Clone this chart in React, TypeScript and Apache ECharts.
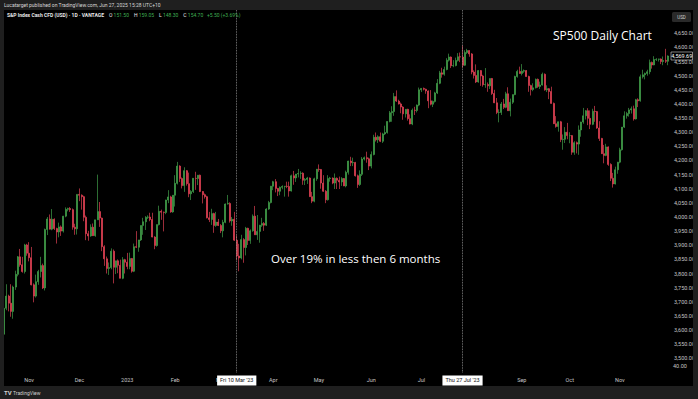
import React, { useEffect, useRef } from "react";
import * as echarts from "echarts";

// [open, high, low, close] per CFD session (weekdays, closed 26 Dec 2022 and 2 Jan 2023)
type Bar = [number, number, number, number];

const oct22: Bar[] = [
  [3585, 3690, 3580, 3677], [3677, 3762, 3670, 3720], [3720, 3725, 3666, 3695], [3695, 3762, 3647, 3666],
  [3666, 3757, 3640, 3752], [3752, 3810, 3742, 3797], [3797, 3862, 3790, 3859], [3859, 3887, 3824, 3831],
  [3831, 3859, 3803, 3807], [3807, 3905, 3800, 3901], [3901, 3905, 3863, 3872],
];
const nov22: Bar[] = [
  [3872, 3911, 3843, 3856], [3856, 3894, 3758, 3760], [3760, 3765, 3698, 3720], [3720, 3796, 3715, 3771],
  [3771, 3813, 3760, 3807], [3807, 3859, 3786, 3828], [3828, 3835, 3745, 3749], [3749, 3959, 3740, 3956],
  [3956, 4000, 3936, 3993], [3993, 4009, 3956, 3957], [3957, 4028, 3953, 3992], [3992, 3995, 3954, 3959],
  [3959, 3962, 3906, 3947], [3947, 3980, 3928, 3965], [3965, 3970, 3933, 3950], [3950, 4004, 3945, 4003],
  [4003, 4034, 3999, 4027], [4027, 4033, 4020, 4030], [4030, 4035, 4018, 4026], [4026, 4030, 3955, 3964],
  [3964, 3976, 3937, 3958], [3958, 4080, 3938, 4080],
];
const dec22: Bar[] = [
  [4080, 4101, 4056, 4077], [4077, 4080, 4026, 4072], [4072, 4075, 3985, 3999], [3999, 4005, 3918, 3941],
  [3941, 3951, 3916, 3933], [3933, 3974, 3930, 3964], [3964, 3977, 3933, 3934], [3934, 3990, 3930, 3990],
  [3990, 4150, 3990, 4019], [4019, 4053, 3965, 3996], [3996, 3998, 3879, 3895], [3895, 3900, 3827, 3852],
  [3852, 3860, 3800, 3818], [3818, 3839, 3795, 3821], [3821, 3889, 3815, 3879], [3879, 3885, 3765, 3822],
  [3822, 3845, 3798, 3845], [3845, 3850, 3801, 3829], [3829, 3849, 3783, 3783], [3783, 3858, 3780, 3849],
  [3849, 3852, 3800, 3840],
];
const jan23: Bar[] = [
  [3840, 3873, 3815, 3825], [3825, 3874, 3815, 3853], [3853, 3855, 3803, 3808], [3808, 3906, 3805, 3895],
  [3895, 3950, 3890, 3893], [3893, 3919, 3877, 3919], [3919, 3970, 3915, 3970], [3970, 3997, 3937, 3983],
  [3983, 4003, 3954, 3999], [3999, 4006, 3993, 4000], [4000, 4015, 3985, 3991], [3991, 4015, 3928, 3929],
  [3929, 3932, 3886, 3899], [3899, 3973, 3895, 3973], [3973, 4040, 3970, 4020], [4020, 4026, 3990, 4017],
  [4017, 4019, 3949, 4016], [4016, 4061, 4010, 4060], [4060, 4095, 4049, 4071], [4071, 4075, 4015, 4018],
  [4018, 4077, 4015, 4077],
];
const feb23: Bar[] = [
  [4077, 4148, 4037, 4119], [4119, 4195, 4115, 4180], [4180, 4183, 4124, 4136], [4136, 4140, 4101, 4111],
  [4111, 4176, 4089, 4164], [4164, 4166, 4111, 4118], [4118, 4157, 4070, 4082], [4082, 4095, 4060, 4090],
  [4090, 4138, 4085, 4137], [4137, 4160, 4096, 4136], [4136, 4148, 4113, 4148], [4148, 4150, 4088, 4090],
  [4090, 4092, 4048, 4079], [4079, 4083, 4065, 4072], [4072, 4075, 3995, 3997], [3997, 4018, 3982, 3991],
  [3991, 4029, 3972, 4012], [4012, 4015, 3944, 3970], [3970, 4018, 3965, 3982], [3982, 3993, 3968, 3970],
];
const mar23: Bar[] = [
  [3970, 3975, 3943, 3951], [3951, 3990, 3928, 3981], [3981, 4048, 3978, 4046], [4046, 4078, 4044, 4048],
  [4048, 4052, 3980, 3986], [3986, 4000, 3969, 3992], [3992, 4018, 3915, 3918], [3918, 3935, 3847, 3862],
  [3862, 3905, 3808, 3855], [3855, 3937, 3850, 3920], [3920, 3925, 3838, 3892], [3892, 3965, 3864, 3960],
  [3960, 3962, 3901, 3917], [3917, 3956, 3905, 3951], [3951, 4009, 3948, 4003], [4003, 4039, 3937, 3937],
  [3937, 4007, 3919, 3949], [3949, 3972, 3909, 3971], [3971, 3997, 3965, 3977], [3977, 3982, 3951, 3971],
  [3971, 4031, 3968, 4028], [4028, 4057, 4025, 4051], [4051, 4110, 4048, 4109],
];
const apr23: Bar[] = [
  [4109, 4128, 4095, 4125], [4125, 4134, 4087, 4101], [4101, 4103, 4074, 4091], [4091, 4108, 4077, 4105],
  [4105, 4112, 4098, 4108], [4108, 4110, 4072, 4109], [4109, 4125, 4102, 4108], [4108, 4125, 4072, 4092],
  [4092, 4150, 4090, 4146], [4146, 4163, 4114, 4138], [4138, 4152, 4124, 4152], [4152, 4170, 4140, 4154],
  [4154, 4162, 4135, 4155], [4155, 4158, 4114, 4130], [4130, 4138, 4113, 4133], [4133, 4142, 4117, 4138],
  [4138, 4140, 4072, 4072], [4072, 4089, 4049, 4056], [4056, 4139, 4052, 4135], [4135, 4170, 4128, 4169],
];
const may23: Bar[] = [
  [4169, 4186, 4160, 4168], [4168, 4170, 4100, 4120], [4120, 4148, 4089, 4091], [4091, 4095, 4049, 4061],
  [4061, 4148, 4058, 4136], [4136, 4142, 4125, 4138], [4138, 4140, 4116, 4120], [4120, 4154, 4099, 4137],
  [4137, 4140, 4099, 4130], [4130, 4143, 4099, 4124], [4124, 4141, 4110, 4136], [4136, 4138, 4109, 4110],
  [4110, 4164, 4105, 4158], [4158, 4199, 4150, 4198], [4198, 4213, 4180, 4192], [4192, 4210, 4180, 4193],
  [4193, 4195, 4143, 4146], [4146, 4150, 4103, 4115], [4115, 4165, 4110, 4151], [4151, 4212, 4145, 4205],
  [4205, 4214, 4200, 4210], [4210, 4231, 4192, 4206], [4206, 4210, 4166, 4180],
];
const jun23: Bar[] = [
  [4180, 4232, 4172, 4221], [4221, 4291, 4218, 4282], [4282, 4299, 4267, 4273], [4273, 4289, 4262, 4284],
  [4284, 4299, 4265, 4268], [4268, 4298, 4262, 4294], [4294, 4323, 4290, 4299], [4299, 4339, 4295, 4338],
  [4338, 4375, 4335, 4369], [4369, 4392, 4337, 4373], [4373, 4439, 4358, 4426], [4426, 4448, 4407, 4410],
  [4410, 4415, 4398, 4400], [4400, 4405, 4367, 4389], [4389, 4392, 4344, 4365], [4365, 4382, 4352, 4381],
  [4381, 4383, 4341, 4348], [4348, 4363, 4328, 4329], [4329, 4384, 4325, 4378], [4378, 4390, 4361, 4377],
  [4377, 4398, 4370, 4396], [4396, 4458, 4392, 4450],
];
const jul23: Bar[] = [
  [4450, 4456, 4442, 4455], [4455, 4458, 4448, 4452], [4452, 4454, 4436, 4446], [4446, 4448, 4385, 4411],
  [4411, 4449, 4395, 4399], [4399, 4412, 4389, 4409], [4409, 4443, 4405, 4439], [4439, 4488, 4435, 4473],
  [4473, 4517, 4470, 4510], [4510, 4528, 4493, 4505], [4505, 4532, 4500, 4522], [4522, 4562, 4519, 4555],
  [4555, 4578, 4550, 4566], [4566, 4568, 4527, 4535], [4535, 4555, 4530, 4536], [4536, 4564, 4533, 4554],
  [4554, 4580, 4550, 4567], [4567, 4582, 4548, 4566], [4566, 4607, 4528, 4537], [4537, 4590, 4535, 4582],
  [4582, 4595, 4577, 4589],
];
const aug23: Bar[] = [
  [4589, 4590, 4567, 4577], [4577, 4580, 4505, 4513], [4513, 4519, 4490, 4501], [4501, 4540, 4474, 4478],
  [4478, 4520, 4475, 4518], [4518, 4520, 4464, 4499], [4499, 4503, 4461, 4468], [4468, 4527, 4457, 4469],
  [4469, 4476, 4443, 4464], [4464, 4490, 4453, 4490], [4490, 4492, 4432, 4437], [4437, 4450, 4403, 4404],
  [4404, 4421, 4364, 4370], [4370, 4381, 4335, 4370], [4370, 4407, 4361, 4400], [4400, 4418, 4382, 4388],
  [4388, 4443, 4385, 4436], [4436, 4459, 4376, 4376], [4376, 4419, 4356, 4406], [4406, 4433, 4400, 4433],
  [4433, 4500, 4431, 4497], [4497, 4521, 4493, 4515], [4515, 4532, 4507, 4508],
];
const sep23: Bar[] = [
  [4508, 4541, 4501, 4516], [4516, 4522, 4510, 4518], [4518, 4520, 4496, 4497], [4497, 4500, 4443, 4465],
  [4465, 4468, 4430, 4451], [4451, 4473, 4445, 4457], [4457, 4490, 4455, 4487], [4487, 4490, 4457, 4462],
  [4462, 4479, 4453, 4467], [4467, 4511, 4465, 4505], [4505, 4508, 4447, 4450], [4450, 4466, 4442, 4454],
  [4454, 4456, 4417, 4444], [4444, 4461, 4401, 4402], [4402, 4405, 4329, 4330], [4330, 4357, 4316, 4320],
  [4320, 4338, 4302, 4337], [4337, 4340, 4265, 4274], [4274, 4292, 4238, 4275], [4275, 4318, 4262, 4300],
  [4300, 4333, 4275, 4288],
];
const oct23: Bar[] = [
  [4288, 4300, 4261, 4288], [4288, 4290, 4220, 4229], [4229, 4268, 4220, 4263], [4263, 4267, 4225, 4258],
  [4258, 4324, 4220, 4308], [4308, 4337, 4284, 4336], [4336, 4386, 4330, 4358], [4358, 4378, 4345, 4376],
  [4376, 4385, 4325, 4349], [4349, 4377, 4311, 4328], [4328, 4383, 4325, 4374], [4374, 4393, 4337, 4373],
  [4373, 4375, 4312, 4315], [4315, 4339, 4269, 4278], [4278, 4280, 4223, 4224], [4224, 4255, 4190, 4218],
  [4218, 4259, 4215, 4248], [4248, 4250, 4181, 4186], [4186, 4190, 4127, 4137], [4137, 4156, 4104, 4117],
  [4117, 4178, 4115, 4167], [4167, 4195, 4153, 4194],
];
const nov23: Bar[] = [
  [4194, 4245, 4190, 4238], [4238, 4318, 4235, 4318], [4318, 4374, 4315, 4358], [4358, 4372, 4348, 4366],
  [4366, 4386, 4355, 4379], [4379, 4391, 4366, 4383], [4383, 4394, 4341, 4347], [4347, 4418, 4345, 4415],
  [4415, 4420, 4389, 4411], [4411, 4504, 4408, 4496], [4496, 4521, 4490, 4503], [4503, 4511, 4487, 4508],
  [4508, 4521, 4500, 4514], [4514, 4557, 4505, 4547], [4547, 4550, 4525, 4538], [4538, 4569, 4537, 4557],
  [4557, 4562, 4552, 4558], [4558, 4560, 4550, 4559], [4559, 4561, 4541, 4550], [4550, 4568, 4537, 4554],
  [4554, 4595, 4545, 4551], [4551, 4572, 4537, 4569.69],
];

const FIRST_SESSION = "2022-10-17";
const CLOSED_DAYS = ["2022-12-26", "2023-01-02"];
const LAST_PRICE = 4569.69;
const MARKED_DATES = ["2023-03-10", "2023-07-27"];
const MARKED_LABELS = ["Fri 10 Mar '23", "Thu 27 Jul '23"];
const HIDDEN_MONTH_LABELS = ["2023-08"]; // fully covered by the date box in the original
const MONTHS = ["Jan", "Feb", "Mar", "Apr", "May", "Jun", "Jul", "Aug", "Sep", "Oct", "Nov", "Dec"];
const Y_MIN = 3450;
const Y_MAX = 4750;
const Y_LABEL_MIN = 3500;
const Y_LABEL_MAX = 4650;

const bars: Bar[] = [
  ...oct22, ...nov22, ...dec22, ...jan23, ...feb23, ...mar23, ...apr23,
  ...may23, ...jun23, ...jul23, ...aug23, ...sep23, ...oct23, ...nov23,
];

function sessions(start: string, n: number): string[] {
  const out: string[] = [];
  const d = new Date(start + "T00:00:00Z");
  while (out.length < n) {
    const wd = d.getUTCDay();
    const s = d.toISOString().slice(0, 10);
    if (wd !== 0 && wd !== 6 && CLOSED_DAYS.indexOf(s) < 0) out.push(s);
    d.setUTCDate(d.getUTCDate() + 1);
  }
  return out;
}

const dates = sessions(FIRST_SESSION, bars.length);

const fmtPrice = (v: number) =>
  v.toLocaleString("en-US", { minimumFractionDigits: 2, maximumFractionDigits: 2 });

const UP = "#46a84f";
const DOWN = "#f0465a";
const FRAME = "#1f1f1f";
const AXIS_TXT = "#c4c4c4";

function baseGraphics(): any[] {
  return [
    { id: "fTop", type: "rect", z: 100, shape: { x: 0, y: 0, width: 698, height: 10 }, style: { fill: FRAME } },
    { id: "fBot", type: "rect", z: 100, shape: { x: 0, y: 386, width: 698, height: 13 }, style: { fill: FRAME } },
    { id: "fL", type: "rect", z: 100, shape: { x: 0, y: 0, width: 4, height: 399 }, style: { fill: FRAME } },
    { id: "fR", type: "rect", z: 100, shape: { x: 693, y: 0, width: 5, height: 399 }, style: { fill: FRAME } },
    {
      id: "pub", type: "text", z: 101, x: 4, y: 5,
      style: {
        text: "Lucatarget published on TradingView.com, Jun 27, 2025 15:28 UTC+10",
        fill: "#d6d6d6", fontSize: 5, fontFamily: "Roboto", verticalAlign: "middle",
      },
    },
    {
      id: "ticker", type: "text", z: 101, x: 7, y: 15,
      style: {
        text:
          "{t|S&P Index Cash CFD (USD) · 1D · VANTAGE}    {w|O} {g|151.50}    {w|H} {g|159.05}    {w|L} {g|148.30}    {w|C} {g|154.70}   {g|+5.50 (+3.69%)}",
        fontSize: 5, fontFamily: "Roboto", verticalAlign: "middle",
        rich: {
          t: { fill: "#e8e8e8", fontSize: 5, fontFamily: "Roboto", fontWeight: "bold" },
          w: { fill: "#e8e8e8", fontSize: 5, fontFamily: "Roboto" },
          g: { fill: "#3fae52", fontSize: 5, fontFamily: "Roboto" },
        },
      },
    },
    {
      id: "title", type: "text", z: 101, x: 553, y: 35,
      style: { text: "SP500 Daily Chart", fill: "#ffffff", fontSize: 12, fontFamily: "Open Sans", verticalAlign: "middle" },
    },
    {
      id: "note", type: "text", z: 101, x: 271, y: 258,
      style: { text: "Over 19% in less then 6 months", fill: "#ffffff", fontSize: 11.5, fontFamily: "Open Sans", verticalAlign: "middle" },
    },
    { id: "usdBox", type: "rect", z: 101, shape: { x: 672, y: 12, width: 19, height: 10, r: 1.5 }, style: { fill: "#2a2a2a" } },
    {
      id: "usd", type: "text", z: 102, x: 681.5, y: 17,
      style: { text: "USD", fill: "#d0d0d0", fontSize: 4.5, fontFamily: "Roboto", align: "center", verticalAlign: "middle" },
    },
    {
      id: "vol", type: "text", z: 101, x: 673, y: 366,
      style: { text: "40.00", fill: AXIS_TXT, fontSize: 5.5, fontFamily: "Roboto", verticalAlign: "middle" },
    },
    {
      id: "tvIcon", type: "text", z: 101, x: 4, y: 392.5,
      style: { text: "TV", fill: "#d0d0d0", fontSize: 6, fontWeight: "bold", fontFamily: "Roboto", verticalAlign: "middle" },
    },
    {
      id: "tvText", type: "text", z: 101, x: 13, y: 392.5,
      style: { text: "TradingView", fill: "#d0d0d0", fontSize: 5, fontFamily: "Roboto", verticalAlign: "middle" },
    },
  ];
}

export default function App() {
  const ref = useRef<HTMLDivElement>(null);

  useEffect(() => {
    if (!ref.current) return;
    const chart = echarts.init(ref.current, undefined, { renderer: "svg" });

    const candleData = bars.map(([o, h, l, c]) => [o, c, l, h]);

    const option: any = {
      animation: false,
      backgroundColor: "#000000",
      grid: { left: 2.96, right: 28.4, top: 5.04, bottom: 26.58, containLabel: false },
      xAxis: {
        type: "category",
        data: dates,
        boundaryGap: true,
        axisLine: { show: false },
        axisTick: { show: false },
        splitLine: { show: false },
        axisLabel: {
          color: AXIS_TXT,
          fontSize: 5.5,
          fontFamily: "Roboto",
          margin: 5,
          interval: (i: number, v: string) =>
            i > 0 && v.slice(0, 7) !== dates[i - 1].slice(0, 7) && HIDDEN_MONTH_LABELS.indexOf(v.slice(0, 7)) < 0,
          formatter: (v: string) => {
            const m = +v.slice(5, 7);
            return m === 1 ? v.slice(0, 4) : MONTHS[m - 1];
          },
        },
      },
      yAxis: {
        type: "value",
        position: "right",
        min: Y_MIN,
        max: Y_MAX,
        interval: 50,
        axisLine: { show: false },
        axisTick: { show: false },
        splitLine: { show: false },
        axisLabel: {
          color: AXIS_TXT,
          fontSize: 5.5,
          fontFamily: "Roboto",
          margin: 5,
          formatter: (v: number) => (v < Y_LABEL_MIN || v > Y_LABEL_MAX ? "" : fmtPrice(v)),
        },
      },
      series: [
        {
          type: "candlestick",
          data: candleData,
          barWidth: 1.5,
          itemStyle: {
            color: UP,
            color0: DOWN,
            borderColor: UP,
            borderColor0: DOWN,
            borderWidth: 0.65,
          },
          markLine: {
            symbol: ["none", "none"],
            silent: true,
            data: MARKED_DATES.map((d, i) => ({
              xAxis: d,
              lineStyle: { type: "dotted", color: "#9a9a9a", width: 0.8 },
              label: {
                show: true,
                position: "start",
                distance: 3,
                formatter: MARKED_LABELS[i],
                color: "#111",
                backgroundColor: "#ffffff",
                padding: [2, 3],
                fontSize: 5.5,
                fontFamily: "Roboto",
              },
            })),
          },
        },
      ],
      graphic: baseGraphics(),
    };

    chart.setOption(option);

    const yPix = chart.convertToPixel({ yAxisIndex: 0 }, LAST_PRICE) as number;
    const priceLabel = [
      {
        id: "lastBox", type: "rect", z: 103,
        shape: { x: 671, y: yPix - 4, width: 21.5, height: 8 },
        style: { fill: "#000000", stroke: "#d8d8d8", lineWidth: 0.6 },
      },
      {
        id: "lastTxt", type: "text", z: 104, x: 681.75, y: yPix,
        style: {
          text: fmtPrice(LAST_PRICE), fill: "#ffffff", fontSize: 5.5, fontFamily: "Roboto",
          align: "center", verticalAlign: "middle",
        },
      },
    ];
    chart.setOption({ graphic: [...baseGraphics(), ...priceLabel] }, { replaceMerge: ["graphic"] });

    return () => chart.dispose();
  }, []);

  return <div ref={ref} style={{ position: "fixed", left: 0, top: 0, width: 698, height: 399 }} />;
}
